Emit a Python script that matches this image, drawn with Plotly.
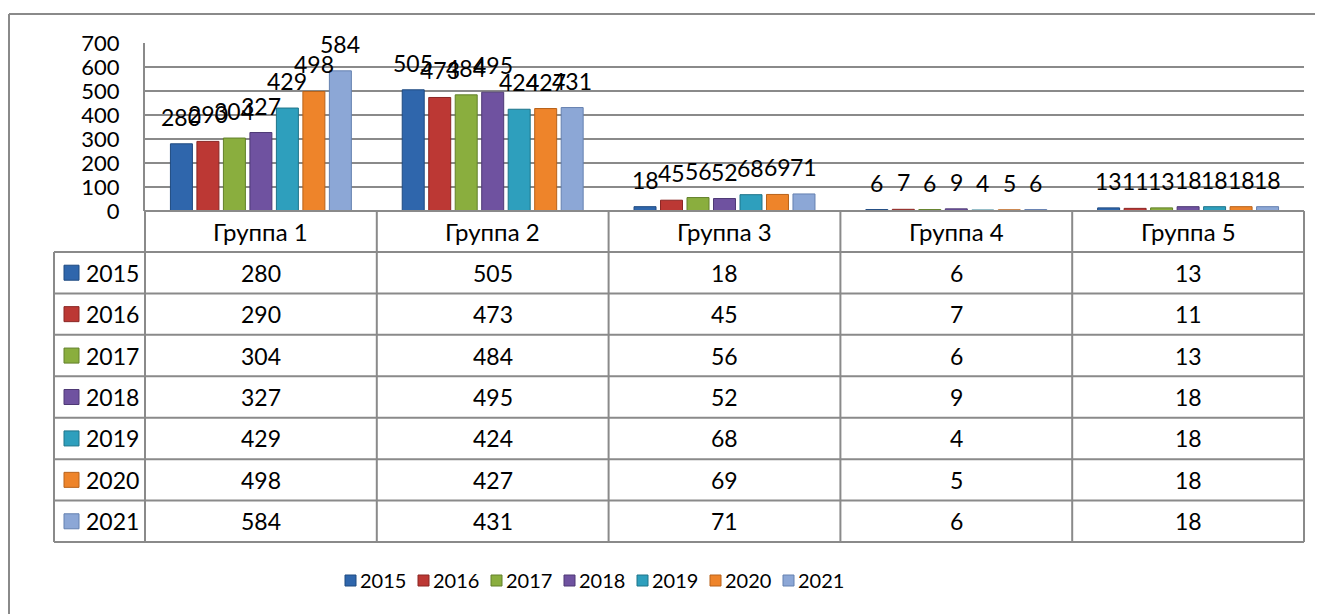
import plotly.graph_objects as go

# ---------------- data ----------------
groups = ["Группа 1", "Группа 2", "Группа 3", "Группа 4", "Группа 5"]
years = ["2015", "2016", "2017", "2018", "2019", "2020", "2021"]
v2015 = [280, 505, 18, 6, 13]
v2016 = [290, 473, 45, 7, 11]
v2017 = [304, 484, 56, 6, 13]
v2018 = [327, 495, 52, 9, 18]
v2019 = [429, 424, 68, 4, 18]
v2020 = [498, 427, 69, 5, 18]
v2021 = [584, 431, 71, 6, 18]
series = [v2015, v2016, v2017, v2018, v2019, v2020, v2021]
y_ticks = [0, 100, 200, 300, 400, 500, 600, 700]

colors = ["#2F66AC", "#BC3834", "#8AAE3E", "#6F52A0", "#2E9FBD", "#EE842A", "#8CA7D6"]
edge = ["#1F4A80", "#8A2623", "#62802A", "#4E3975", "#1F7489", "#B8621A", "#6581B0"]

# the page body adds an 8 px margin, so the figure is drawn 8 px smaller
# and every screen coordinate below is shifted by that offset
OFF = 8
W, H = 1323 - OFF, 614 - OFF
FONT = "Lato"
GRID = "#8A8A8A"


def px(x):
    return (x - OFF) / W


def py(y):
    return 1 - (y - OFF) / H


# layout geometry (screen pixels)
PL, PR, PT, PB = 145, 1304, 43, 211
TL = 54
row_h = (542 - 252) / 7
hdr_bot = 252
bargap = 0.2
ngroups = len(groups)
nser = len(series)

fig = go.Figure()
for i, (yr, vals) in enumerate(zip(years, series)):
    fig.add_trace(go.Bar(
        x=list(range(ngroups)), y=vals, name=yr,
        marker=dict(color=colors[i], line=dict(color=edge[i], width=1)),
        showlegend=False, hoverinfo="x+y+name",
    ))

shapes = []
annotations = []

# data labels above bars
slot = (1 - bargap) / nser
for i, vals in enumerate(series):
    for g, v in enumerate(vals):
        annotations.append(dict(
            x=g - (1 - bargap) / 2 + (i + 0.5) * slot, y=v, xref="x", yref="y",
            text=str(v), showarrow=False, yshift=27, yanchor="middle",
            font=dict(family=FONT, size=23, color="#000"),
        ))

line = dict(color=GRID, width=2)

# outer frame (top and left)
shapes.append(dict(type="line", xref="paper", yref="paper", x0=px(9), x1=1, y0=py(14), y1=py(14), line=line))
shapes.append(dict(type="line", xref="paper", yref="paper", x0=px(9), x1=px(9), y0=py(14), y1=0, line=line))

# table horizontal lines
shapes.append(dict(type="line", xref="paper", yref="paper", x0=px(PL), x1=px(PR), y0=py(PB), y1=py(PB), line=line))
for r in range(nser + 1):
    yy = hdr_bot + r * row_h
    shapes.append(dict(type="line", xref="paper", yref="paper", x0=px(TL), x1=px(PR), y0=py(yy), y1=py(yy), line=line))
# table vertical lines
bottom = hdr_bot + nser * row_h
shapes.append(dict(type="line", xref="paper", yref="paper", x0=px(TL), x1=px(TL), y0=py(hdr_bot), y1=py(bottom), line=line))
colw = (PR - PL) / ngroups
for c in range(ngroups + 1):
    xx = PL + c * colw
    shapes.append(dict(type="line", xref="paper", yref="paper", x0=px(xx), x1=px(xx), y0=py(PB), y1=py(bottom), line=line))

# header texts
for g, name in enumerate(groups):
    annotations.append(dict(
        x=g, y=py((PB + hdr_bot) / 2), xref="x", yref="paper", text=name, showarrow=False,
        xanchor="center", yanchor="middle", font=dict(family=FONT, size=24, color="#000"),
    ))

# rows
for i, (yr, vals) in enumerate(zip(years, series)):
    yc = hdr_bot + (i + 0.5) * row_h
    shapes.append(dict(type="rect", xref="paper", yref="paper", x0=px(64), x1=px(79),
                       y0=py(yc - 7.5), y1=py(yc + 7.5), fillcolor=colors[i], line=dict(color=edge[i], width=1)))
    annotations.append(dict(
        x=px(84), y=py(yc), xref="paper", yref="paper", text=yr, showarrow=False,
        xanchor="left", yanchor="middle", font=dict(family=FONT, size=23, color="#000"),
    ))
    for g, v in enumerate(vals):
        annotations.append(dict(
            x=g, y=py(yc), xref="x", yref="paper", text=str(v), showarrow=False,
            xanchor="center", yanchor="middle", font=dict(family=FONT, size=23, color="#000"),
        ))

# legend
pitch = 73
for i, yr in enumerate(years):
    x0 = 345 + i * pitch
    shapes.append(dict(type="rect", xref="paper", yref="paper", x0=px(x0), x1=px(x0 + 11),
                       y0=py(586), y1=py(575), fillcolor=colors[i], line=dict(color=edge[i], width=1)))
    annotations.append(dict(
        x=px(x0 + 13), y=py(580), xref="paper", yref="paper", text=yr, showarrow=False,
        xanchor="left", yanchor="middle", font=dict(family=FONT, size=20, color="#000"),
    ))

fig.update_layout(
    width=W, height=H, autosize=False,
    margin=dict(l=0, r=0, t=0, b=0, pad=0, autoexpand=False),
    paper_bgcolor="white", plot_bgcolor="white",
    barmode="group", bargap=bargap, bargroupgap=0.17,
    shapes=shapes, annotations=annotations,
    xaxis=dict(domain=[px(PL), px(PR)], range=[-0.5, ngroups - 0.5], showticklabels=False,
               automargin=False, showgrid=False, zeroline=False, showline=False, fixedrange=True),
    yaxis=dict(domain=[py(PB), py(PT)], range=[0, 700], tickvals=y_ticks, automargin=False,
               showgrid=True, gridcolor=GRID, gridwidth=2, zeroline=False,
               showline=True, linecolor=GRID, linewidth=2, ticks="",
               ticklabelstandoff=19, tickfont=dict(family=FONT, size=22, color="#000")),
    showlegend=False,
)

fig.write_html("out.html")
